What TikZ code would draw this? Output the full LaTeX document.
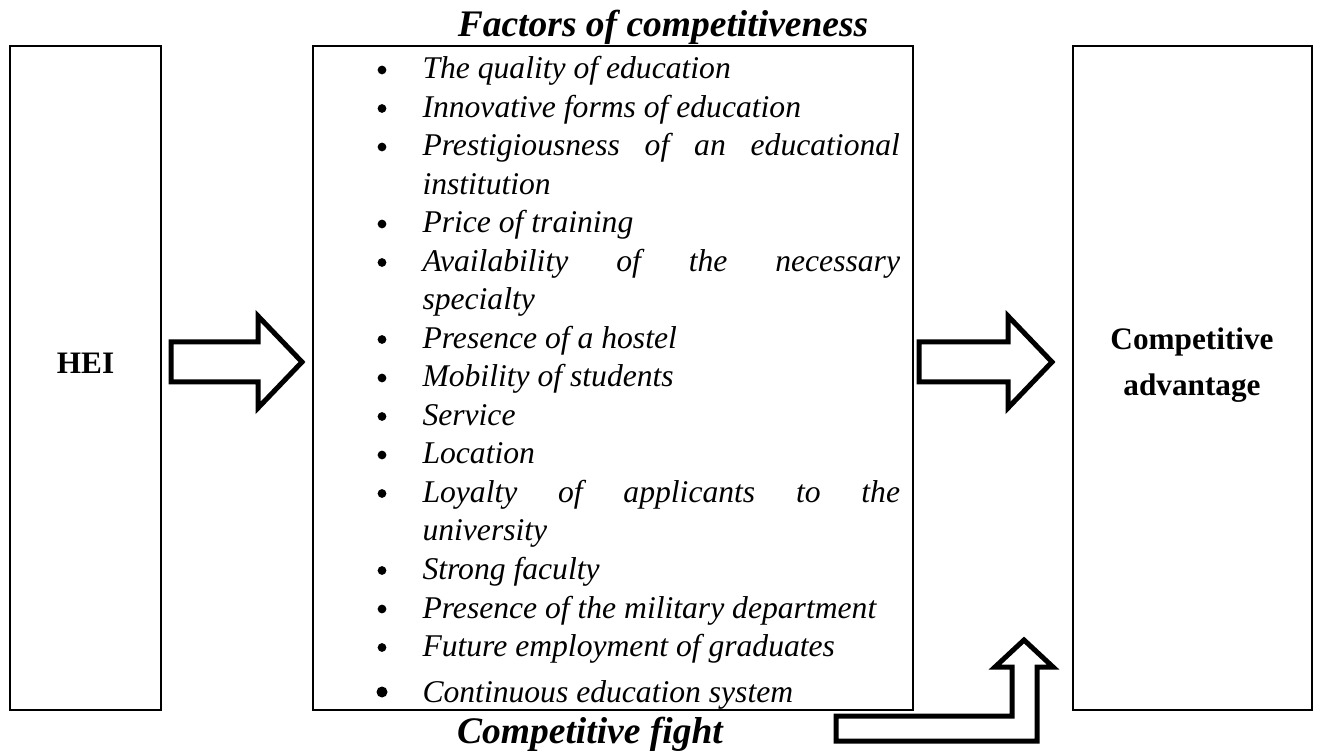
\documentclass[tikz,border=0pt]{standalone}
\usepackage{fontspec}
\setmainfont{Liberation Serif}

% stretch a wrapped line over the full text width of the list
\newcommand{\spreadline}[1]{\makebox[191pt][s]{#1}}

\tikzset{
  box/.style={draw,line width=0.9pt},
  blockarrow/.style={draw,line width=2pt,line join=miter,fill=white},
  factor/.style={anchor=base west,inner sep=0pt,font=\fontsize{12.65}{15}\selectfont\itshape},
  dot/.style={circle,fill,inner sep=0pt,minimum size=3.5pt},
  heading/.style={inner sep=0pt,font=\fontsize{15}{18}\selectfont\bfseries\itshape},
  label/.style={inner sep=0pt,font=\fontsize{12.5}{15}\selectfont\bfseries,align=center},
}

\begin{document}
\begin{tikzpicture}[x=0.4pt,y=-0.4pt]
\useasboundingbox (0,0) rectangle (1320,751);

% the three blocks
\draw[box] (10,46) rectangle (161,710);
\draw[box] (313,46) rectangle (913,710);
\draw[box] (1073,46) rectangle (1312,710);

\node[label] (hei) at (85.5,363) {HEI};
\node[label] (adv1) at (1192,342) {Competitive};
\node[label] (adv2) at (1192,388) {advantage};

\node[heading] (top) at (663,27) {Factors of competitiveness};
\node[heading] (fight) at (590,734) {Competitive fight};

% block arrows
\draw[blockarrow] (171,342) -- (258,342) -- (258,316) -- (302,362) -- (258,408) -- (258,382) -- (171,382) -- cycle;
\draw[blockarrow] (919,342) -- (1008,342) -- (1008,316) -- (1052,362) -- (1008,408) -- (1008,382) -- (919,382) -- cycle;
\draw[blockarrow] (836,716) -- (1012,716) -- (1012,667) -- (995,667) -- (1024,640) -- (1053,667) -- (1037,667) -- (1037,741) -- (836,741) -- cycle;

% list of factors
\node[dot] (d1) at (382,70) {};
\node[factor] (f1) at (422,79) {The quality of education};
\node[dot] (d2) at (382,108.5) {};
\node[factor] (f2) at (422,117.5) {Innovative forms of education};
\node[dot] (d3) at (382,147) {};
\node[factor] (f3) at (422,156) {\spreadline{Prestigiousness of an educational}};
\node[factor] (f3b) at (422,194.5) {institution};
\node[dot] (d4) at (382,224) {};
\node[factor] (f4) at (422,233) {Price of training};
\node[dot] (d5) at (382,262.5) {};
\node[factor] (f5) at (422,271.5) {\spreadline{Availability of the necessary}};
\node[factor] (f5b) at (422,310) {specialty};
\node[dot] (d6) at (382,339.5) {};
\node[factor] (f6) at (422,348.5) {Presence of a hostel};
\node[dot] (d7) at (382,378) {};
\node[factor] (f7) at (422,387) {Mobility of students};
\node[dot] (d8) at (382,416.5) {};
\node[factor] (f8) at (422,425.5) {Service};
\node[dot] (d9) at (382,455) {};
\node[factor] (f9) at (422,464) {Location};
\node[dot] (d10) at (382,493.5) {};
\node[factor] (f10) at (422,502.5) {\spreadline{Loyalty of applicants to the}};
\node[factor] (f10b) at (422,541) {university};
\node[dot] (d11) at (382,570.5) {};
\node[factor] (f11) at (422,579.5) {Strong faculty};
\node[dot] (d12) at (382,609) {};
\node[factor] (f12) at (422,618) {Presence of the military department};
\node[dot] (d13) at (382,647.5) {};
\node[factor] (f13) at (422,656.5) {Future employment of graduates};
\node[dot,minimum size=4.4pt] (d14) at (382,692) {};
\node[factor] (f14) at (422,702) {Continuous education system};

\end{tikzpicture}
\end{document}
